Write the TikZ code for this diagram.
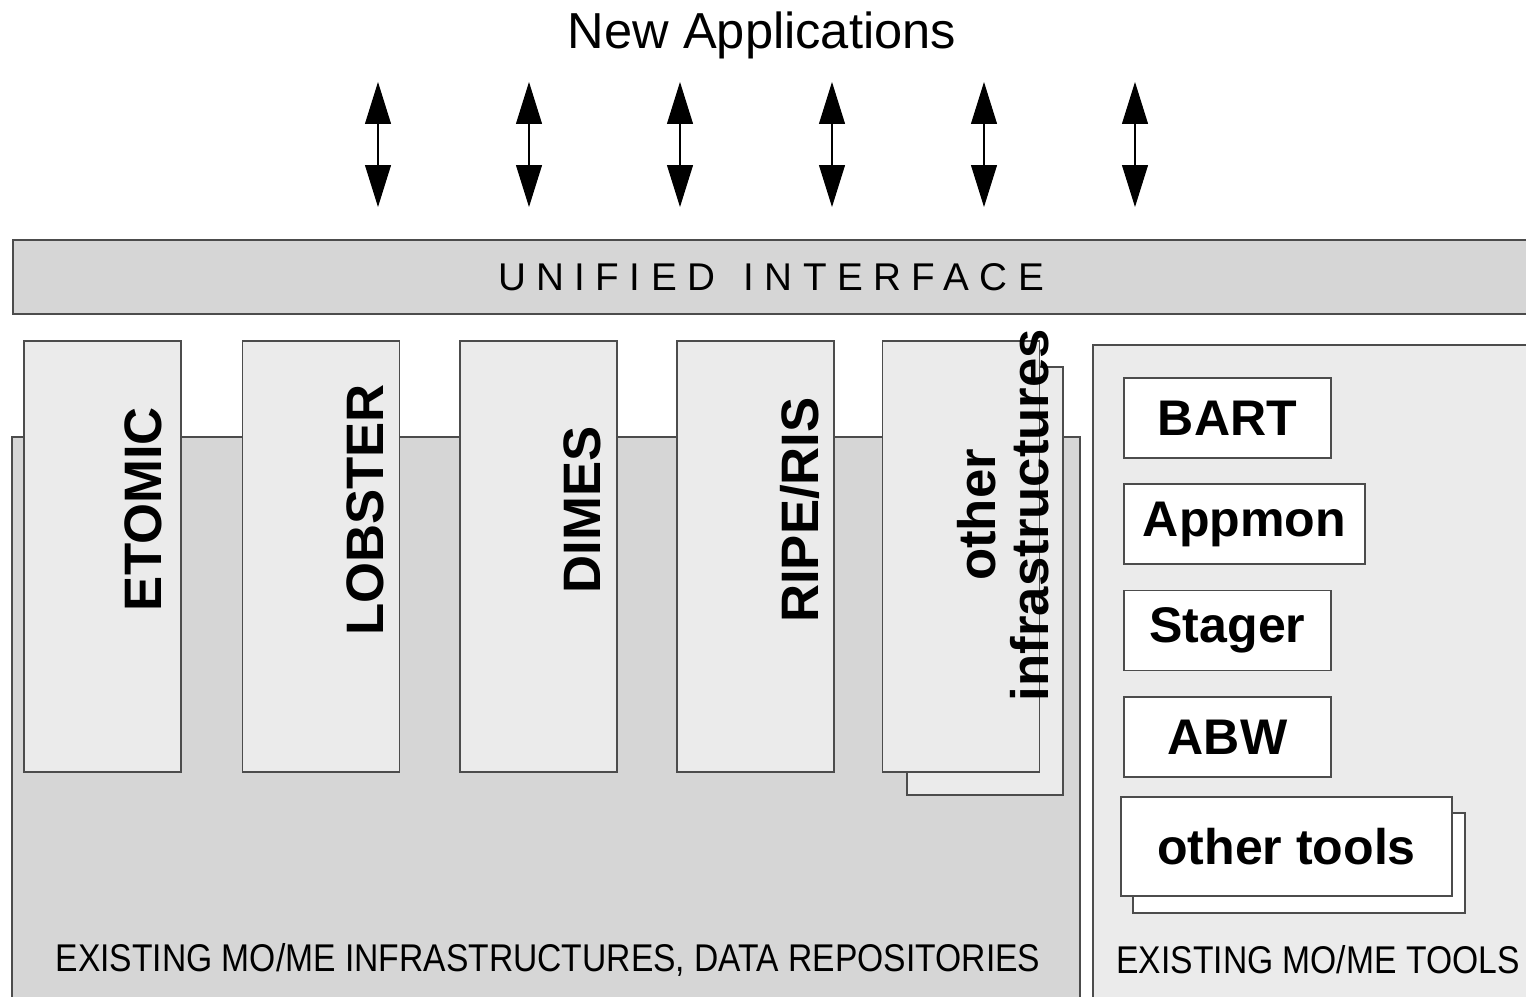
\documentclass[tikz,border=0pt]{standalone}
\usepackage{fontspec}
\setmainfont{Liberation Sans}
\newfontfamily\narrowfont[FakeStretch=0.87]{Liberation Sans}
\newfontfamily\widefont[LetterSpace=27]{Liberation Sans}
\usetikzlibrary{arrows.meta}
\definecolor{bargray}{HTML}{D6D6D6}
\definecolor{boxgray}{HTML}{EBEBEB}
\tikzset{
  panel/.style={draw=black!70, line width=0.8pt, inner sep=0pt},
  colbox/.style={panel, fill=boxgray, minimum width=3.14cm, minimum height=8.62cm},
  collabel/.style={rotate=90, align=center, font=\fontsize{30}{30}\selectfont\bfseries},
  toolbox/.style={panel, fill=white, minimum height=1.6cm, font=\fontsize{28.5}{30}\selectfont\bfseries},
  biarrow/.style={{Triangle[width=0.52cm,length=0.84cm]}-{Triangle[width=0.52cm,length=0.84cm]}, line width=0.6pt}
}
\begin{document}
\begin{tikzpicture}[x=0.02cm, y=-0.02cm]
\useasboundingbox (0,0) rectangle (1526,997);
\node (title) at (762,35) {\fontsize{28.8}{30}\selectfont New Applications};
\foreach \i/\x in {1/378,2/529,3/680,4/832,5/984,6/1135}{
  \coordinate (up\i) at (\x,82);
  \coordinate (dn\i) at (\x,207);
  \draw[biarrow] (up\i) -- (dn\i);
}
\node (uibar) at (776.5,277) [panel, fill=bargray, minimum width=30.54cm, minimum height=1.48cm] {};
\node (uilabel) at (771,277) {\widefont\fontsize{22}{24}\selectfont UNIFIED\ \kern4pt INTERFACE};
\node (infra) at (546,723.5) [panel, fill=bargray, minimum width=21.36cm, minimum height=11.46cm] {};
\node (tools) at (1316.5,677.5) [panel, fill=boxgray, minimum width=8.94cm, minimum height=13.3cm] {};
\node (etomic) at (102.5,556.5) [colbox] {};
\node (lobster) at (321,556.5) [colbox] {};
\node (dimes) at (538.5,556.5) [colbox] {};
\node (ripe) at (755.5,556.5) [colbox] {};
\node (otherback) at (985,581) [colbox, minimum width=3.12cm, minimum height=8.56cm] {};
\node (otherinf) at (961,556.5) [colbox] {};
\node (etomiclbl) at (143,509) [collabel] {ETOMIC};
\node (lobsterlbl) at (365,510) [collabel] {LOBSTER};
\node (dimeslbl) at (582,510) [collabel] {DIMES};
\node (ripelbl) at (800,510) [collabel] {RIPE/RIS};
\node (otherlbl) at (1003,515) [collabel] {other\\infrastructures};
\node (bart) at (1227.5,418) [toolbox, minimum width=4.14cm] {BART};
\node (appmon) at (1244.5,524) [toolbox, minimum width=4.82cm] {Appmon};
\node (stager) at (1227.5,630.5) [toolbox, minimum width=4.14cm] {Stager};
\node (abw) at (1227.5,737) [toolbox, minimum width=4.14cm] {ABW};
\node (toolsback) at (1299,863) [toolbox, minimum width=6.64cm, minimum height=2cm] {};
\node (othertools) at (1286.5,846.5) [toolbox, minimum width=6.62cm, minimum height=1.98cm] {other tools};
\node (infralbl) at (548,960) {\narrowfont\fontsize{22}{24}\selectfont EXISTING MO/ME INFRASTRUCTURES, DATA REPOSITORIES};
\node (toolslbl) at (1318,960) {\narrowfont\fontsize{22}{24}\selectfont EXISTING MO/ME TOOLS};
\end{tikzpicture}
\end{document}
